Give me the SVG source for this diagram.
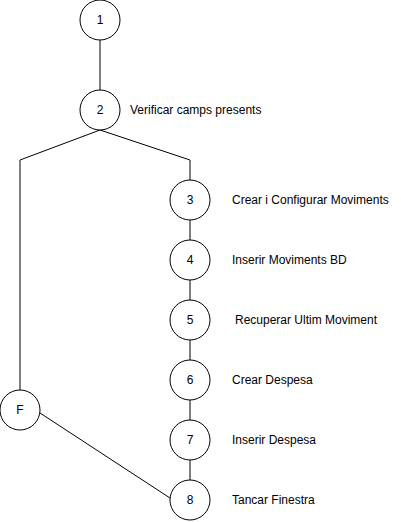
<svg xmlns="http://www.w3.org/2000/svg" width="401" height="522" viewBox="0 0 401 522">
<style>
.n circle{fill:#fff;stroke:#000;stroke-width:1}
.n text{font-family:"Liberation Sans",Arial,sans-serif;font-size:12px;fill:#000}
.c{fill:none;stroke:#000;stroke-width:1}
</style>
<rect width="401" height="522" fill="#fff"/>
<g id="connectors">
<path class="c" d="M100 40V90"/>
<path class="c" d="M100 130L20 160V390"/>
<path class="c" d="M100 130L190 160V180"/>
<path class="c" d="M190 220V240"/>
<path class="c" d="M190 280V300"/>
<path class="c" d="M190 340V360"/>
<path class="c" d="M190 400V420"/>
<path class="c" d="M190 460V480"/>
<path class="c" d="M40 413L170 498"/>
</g>
<g id="n1" class="n"><circle cx="100" cy="20" r="20"/><text x="100" y="24" text-anchor="middle">1</text></g>
<g id="n2" class="n"><circle cx="100" cy="110" r="20"/><text x="100" y="114" text-anchor="middle">2</text><text x="130" y="114">Verificar camps presents</text></g>
<g id="n3" class="n"><circle cx="190" cy="200" r="20"/><text x="190" y="204" text-anchor="middle">3</text><text x="232" y="204">Crear i Configurar Moviments</text></g>
<g id="n4" class="n"><circle cx="190" cy="260" r="20"/><text x="190" y="264" text-anchor="middle">4</text><text x="232" y="264">Inserir Moviments BD</text></g>
<g id="n5" class="n"><circle cx="190" cy="320" r="20"/><text x="190" y="324" text-anchor="middle">5</text><text x="235" y="324">Recuperar Ultim Moviment</text></g>
<g id="n6" class="n"><circle cx="190" cy="380" r="20"/><text x="190" y="384" text-anchor="middle">6</text><text x="232" y="384">Crear Despesa</text></g>
<g id="n7" class="n"><circle cx="190" cy="440" r="20"/><text x="190" y="444" text-anchor="middle">7</text><text x="232" y="444">Inserir Despesa</text></g>
<g id="n8" class="n"><circle cx="190" cy="500" r="20"/><text x="190" y="504" text-anchor="middle">8</text><text x="232" y="504">Tancar Finestra</text></g>
<g id="nF" class="n"><circle cx="20" cy="410" r="20"/><text x="20" y="414" text-anchor="middle">F</text></g>
</svg>
